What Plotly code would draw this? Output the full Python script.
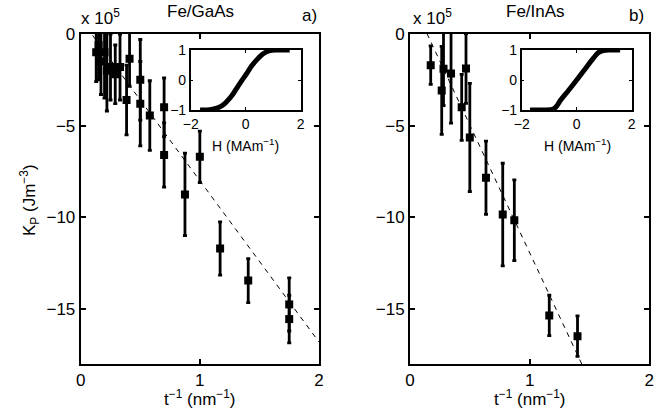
import plotly.graph_objects as go

W, H = 672, 413
FONT = "Liberation Sans, Arial, Helvetica, sans-serif"

# ---------------- data ----------------
# panel a) Fe/GaAs
ga_t = [0.13, 0.15, 0.17, 0.20, 0.22, 0.25, 0.29, 0.33, 0.385, 0.41, 0.50, 0.50,
        0.58, 0.70, 0.70, 0.875, 1.00, 1.17, 1.406, 1.75, 1.75]
ga_K = [-1.0, -0.6, -1.5, -1.0, -2.0, -1.8, -2.2, -1.8, -3.6, -1.35, -2.5, -3.8,
        -4.45, -4.0, -6.6, -8.75, -6.7, -11.7, -13.45, -14.75, -15.55]
ga_err = [1.6, 1.9, 1.8, 2.5, 2.2, 1.8, 1.6, 1.8, 1.9, 1.5, 2.2, 2.3,
          1.9, 1.6, 1.75, 2.25, 1.4, 1.45, 1.2, 1.45, 1.3]
ga_fit_t = [0.0, 2.0]
ga_fit_K = [0.8, -16.8]

# panel b) Fe/InAs
in_t = [0.173, 0.265, 0.28, 0.343, 0.432, 0.468, 0.50, 0.635, 0.775, 0.872, 1.164, 1.40]
in_K = [-1.70, -3.08, -1.9, -2.16, -4.0, -1.88, -5.64, -7.84, -9.85, -10.16, -15.35, -16.48]
in_err = [1.05, 2.4, 2.0, 2.7, 1.8, 1.9, 2.95, 2.0, 2.8, 2.2, 1.1, 1.1]
in_fit_t = [0.0, 1.45]
in_fit_K = [2.0, -18.2]

# insets: normalised magnetisation vs H (MA/m)
ga_H = [-1.66, -1.3, -1.05, -0.85, -0.69, -0.5, -0.33, -0.15, 0.04, 0.2, 0.4, 0.6, 0.76, 0.95, 1.13, 1.6]
ga_M = [-1.0, -0.99, -0.94, -0.85, -0.72, -0.52, -0.28, -0.03, 0.22, 0.45, 0.67, 0.85, 0.94, 0.99, 1.0, 1.0]
in_H = [-1.7, -1.2, -0.85, -0.72, -0.61, -0.3, 0.0, 0.3, 0.6, 0.8, 0.97, 1.2, 1.58]
in_M = [-1.0, -1.0, -0.97, -0.86, -0.7, -0.35, 0.0, 0.36, 0.72, 0.92, 0.98, 1.0, 1.0]

main_xticks = [0, 1, 2]
main_yticks = [0, -5, -10, -15]
main_yticklabels = ["0", "−5", "−10", "−15"]
inset_xticks = [-2, 0, 2]
inset_xticklabels = ["−2", "0", "2"]
inset_yticks = [-1, 0, 1]
inset_yticklabels = ["−1", "0", "1"]

# ---------------- helpers (page pixels -> paper) ----------------
def px(x):
    return x / W

def py(y):
    return 1 - y / H

fig = go.Figure()

def add_panel(t, K, err, ft, fK, xa, ya):
    fig.add_trace(go.Scatter(
        x=ft, y=fK, mode="lines", xaxis=xa, yaxis=ya,
        line=dict(color="black", width=1, dash="5px,5px"), showlegend=False, hoverinfo="skip"))
    fig.add_trace(go.Scatter(
        x=t, y=K, mode="markers", xaxis=xa, yaxis=ya,
        marker=dict(symbol="square", size=8, color="black"),
        error_y=dict(type="data", array=err, visible=True, color="black", thickness=2.8, width=2),
        showlegend=False, cliponaxis=True))

def add_inset(Hv, Mv, xa, ya):
    fig.add_trace(go.Scatter(
        x=Hv, y=Mv, mode="lines", xaxis=xa, yaxis=ya,
        line=dict(color="black", width=5, shape="spline"), showlegend=False))

add_panel(ga_t, ga_K, ga_err, ga_fit_t, ga_fit_K, "x", "y")
add_panel(in_t, in_K, in_err, in_fit_t, in_fit_K, "x2", "y2")
add_inset(ga_H, ga_M, "x3", "y3")
add_inset(in_H, in_M, "x4", "y4")

main_common = dict(showline=True, linecolor="black", linewidth=2, mirror="allticks",
                   ticks="inside", ticklen=5, tickwidth=1.5, tickcolor="black",
                   showgrid=False, zeroline=False, automargin=False,
                   tickfont=dict(family=FONT, size=17, color="black"))
inset_common = dict(showline=True, linecolor="black", linewidth=1.5, mirror="allticks",
                    ticks="inside", ticklen=3, tickwidth=1, tickcolor="black",
                    showgrid=False, zeroline=False, automargin=False,
                    tickfont=dict(family=FONT, size=14, color="black"))

ydom = [py(364), py(34)]
fig.update_layout(
    width=W, height=H, margin=dict(l=0, r=0, t=0, b=0, autoexpand=False),
    paper_bgcolor="white", plot_bgcolor="white", hovermode=False,
    xaxis=dict(domain=[px(80.7), px(319)], range=[0, 2], tickvals=main_xticks,
               anchor="y", **main_common),
    yaxis=dict(domain=ydom, range=[-18, 0], tickvals=main_yticks,
               ticktext=main_yticklabels, anchor="x", **main_common),
    xaxis2=dict(domain=[px(410), px(649.3)], range=[0, 2], tickvals=main_xticks,
                anchor="y2", **main_common),
    yaxis2=dict(domain=ydom, range=[-18, 0], tickvals=main_yticks,
                ticktext=main_yticklabels, anchor="x2", **main_common),
    xaxis3=dict(domain=[px(190.7), px(300.7)], range=[-2, 2], tickvals=inset_xticks,
                ticktext=inset_xticklabels, anchor="y3", **inset_common),
    yaxis3=dict(domain=[py(110), py(50)], range=[-1, 1], tickvals=inset_yticks,
                ticktext=inset_yticklabels, anchor="x3", **inset_common),
    xaxis4=dict(domain=[px(521.7), px(631.7)], range=[-2, 2], tickvals=inset_xticks,
                ticktext=inset_xticklabels, anchor="y4", **inset_common),
    yaxis4=dict(domain=[py(110), py(50)], range=[-1, 1], tickvals=inset_yticks,
                ticktext=inset_yticklabels, anchor="x4", **inset_common),
)

def ann(text, x, y, size=17, angle=0, xanchor="center"):
    fig.add_annotation(text=text, x=px(x), y=py(y), xref="paper", yref="paper",
                       showarrow=False, textangle=angle, xanchor=xanchor, yanchor="middle",
                       font=dict(family=FONT, size=size, color="black"))

ann("Fe/GaAs", 200, 12)
ann("a)", 309, 15)
ann("x 10<sup>5</sup>", 100, 17)
ann("Fe/InAs", 535, 12)
ann("b)", 636, 15)
ann("x 10<sup>5</sup>", 432, 17)
ann("K<sub>P</sub> (Jm<sup>−3</sup>)", 30, 200, angle=-90)
ann("t<sup>−1</sup> (nm<sup>−1</sup>)", 200, 398)
ann("t<sup>−1</sup> (nm<sup>−1</sup>)", 530, 398)
ann("H (MAm<sup>−1</sup>)", 246, 145, size=14)
ann("H (MAm<sup>−1</sup>)", 577, 145, size=14)

fig.write_html("out.html", config={"displayModeBar": False},
               post_script="document.body.style.margin='0px';")
